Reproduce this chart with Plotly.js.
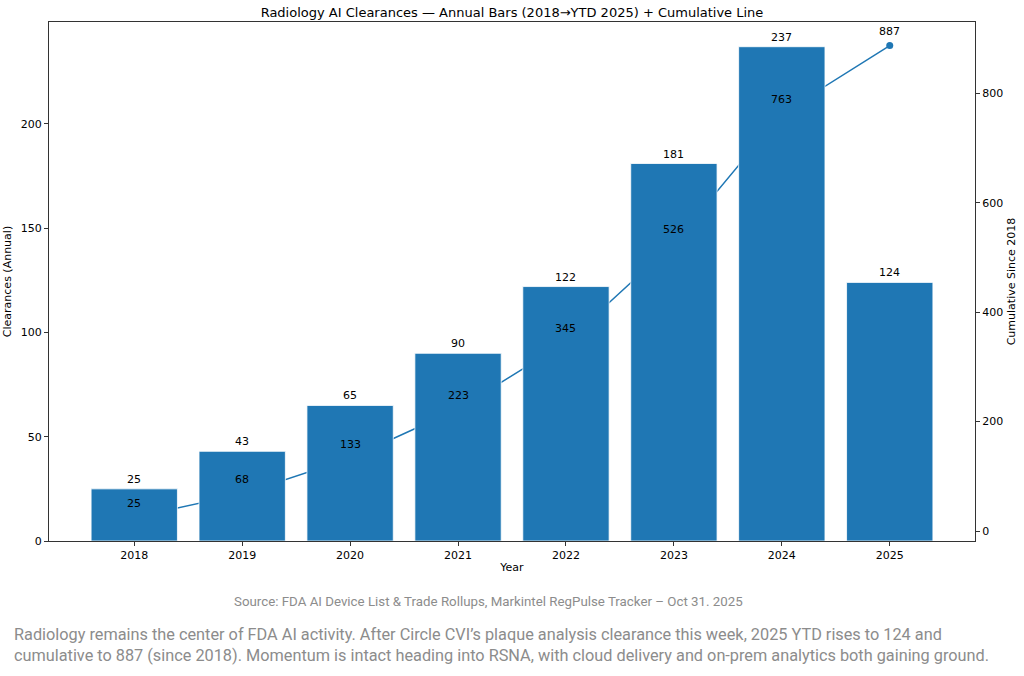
<!DOCTYPE html>
<html>
<head>
<meta charset="utf-8">
<script src="https://cdn.plot.ly/plotly-3.0.1.min.js"></script>
<style>html,body{margin:0;padding:0;background:#fff;}#chart{width:1024px;height:676px;}</style>
</head>
<body>
<div id="chart"></div>
<script>
const years = ["2018","2019","2020","2021","2022","2023","2024","2025"];
const annual = [25, 43, 65, 90, 122, 181, 237, 124];
const cumulative = [25, 68, 133, 223, 345, 526, 763, 887];
const titleText = "Radiology AI Clearances — Annual Bars (2018→YTD 2025) + Cumulative Line";
const sourceText = "Source: FDA AI Device List &amp; Trade Rollups, Markintel RegPulse Tracker – Oct 31. 2025";
const captionText = "Radiology remains the center of FDA AI activity. After Circle CVI’s plaque analysis clearance this week, 2025 YTD rises to 124 and<br>cumulative to 887 (since 2018). Momentum is intact heading into RSNA, with cloud delivery and on-prem analytics both gaining ground.";

const blue = "#1f77b4";
const font = "DejaVu Sans, sans-serif";

const lineTrace = {
  type: "scatter", mode: "lines+markers",
  x: years, y: cumulative, xaxis: "x", yaxis: "y",
  line: {color: blue, width: 1.5}, marker: {color: blue, size: 7},
  hoverinfo: "skip", showlegend: false
};
const barTrace = {
  type: "bar", x: years, y: annual, xaxis: "x", yaxis: "y2",
  marker: {color: blue, line: {color: "#ffffff", width: 0.8}},
  width: 0.8, hoverinfo: "skip", showlegend: false
};

const annotations = [];
years.forEach((yr, i) => {
  annotations.push({x: i, y: annual[i], xref: "x", yref: "y2", text: String(annual[i]),
    showarrow: false, yanchor: "bottom", yshift: 1, font: {family: font, size: 11, color: "#000"}});
  annotations.push({x: i, y: cumulative[i], xref: "x", yref: "y", text: String(cumulative[i]),
    showarrow: false, yanchor: "middle", yshift: 14, font: {family: font, size: 11, color: "#000"}});
});
annotations.push({xref: "paper", yref: "paper", x: (488-49)/926, y: -(601-541)/519, xanchor: "center", yanchor: "middle",
  text: sourceText, showarrow: false, font: {family: "Roboto, sans-serif", size: 13.3, color: "#8c8c8c"}});
annotations.push({xref: "paper", yref: "paper", x: (12-49)/926, y: -(645-541)/519, xanchor: "left", yanchor: "middle", align: "left",
  text: captionText, showarrow: false, font: {family: "Roboto, sans-serif", size: 16.3, color: "#8c8c8c"}});

const layout = {
  width: 1024, height: 676,
  margin: {l: 49, r: 49, t: 22, b: 135},
  paper_bgcolor: "#fff", plot_bgcolor: "#fff",
  title: {text: titleText, x: 0.5, xanchor: "center", y: 1 - 12/676, yanchor: "middle",
    font: {family: font, size: 13, color: "#000"}},
  xaxis: {type: "category", range: [-0.79, 7.79], showgrid: false, zeroline: false,
    showline: true, linecolor: "#333", linewidth: 1, mirror: true,
    ticks: "outside", ticklen: 4, tickcolor: "#333",
    tickfont: {family: font, size: 11, color: "#000"},
    title: {text: "Year", standoff: 2, font: {family: font, size: 11, color: "#000"}}},
  yaxis: {side: "right", range: [-18.1, 930.1], tickvals: [0, 200, 400, 600, 800],
    showgrid: false, zeroline: false, showline: true, linecolor: "#333", linewidth: 1,
    ticks: "outside", ticklen: 4, tickcolor: "#333",
    tickfont: {family: font, size: 11, color: "#000"},
    title: {text: "Cumulative Since 2018", standoff: 5, font: {family: font, size: 11, color: "#000"}}},
  yaxis2: {overlaying: "y", side: "left", range: [0, 248.85], tickvals: [0, 50, 100, 150, 200],
    showgrid: false, zeroline: false, showline: true, linecolor: "#333", linewidth: 1,
    ticks: "outside", ticklen: 4, tickcolor: "#333",
    tickfont: {family: font, size: 11, color: "#000"},
    title: {text: "Clearances (Annual)", standoff: 6, font: {family: font, size: 11, color: "#000"}}},
  annotations: annotations,
  showlegend: false
};

Plotly.newPlot("chart", [lineTrace, barTrace], layout, {staticPlot: true, displayModeBar: false});
</script>
</body>
</html>
